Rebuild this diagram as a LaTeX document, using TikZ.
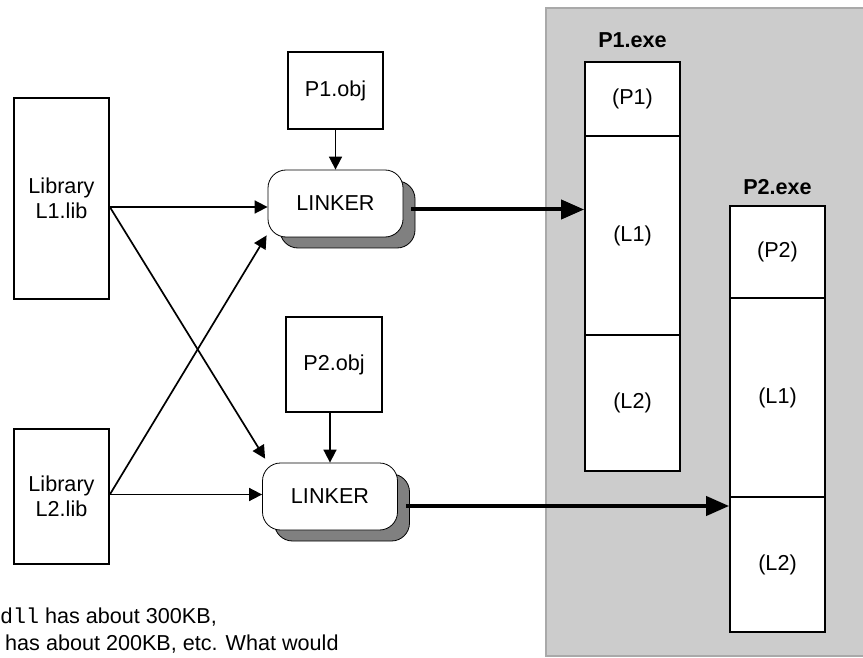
\documentclass[tikz,border=0pt]{standalone}
\usepackage{fontspec}
\setmainfont{Liberation Sans}
\setmonofont{Liberation Mono}
\usetikzlibrary{arrows.meta}
\definecolor{panelfill}{HTML}{CCCCCC}
\definecolor{panelline}{HTML}{A9A9A9}
\definecolor{shadowgray}{HTML}{808080}
\tikzset{
  txt/.style={font=\fontsize{21.6}{25}\selectfont},
  box/.style={txt, draw, line width=1.7pt, fill=white, inner sep=0pt, align=center},
  linkbox/.style={txt, draw, line width=0.8pt, rounded corners=18pt, fill=white,
    inner sep=0pt, minimum width=135pt, minimum height=67pt},
  linkshadow/.style={linkbox, fill=shadowgray},
  feed/.style={line width=1.7pt, -{Triangle[length=13pt,width=13pt]}},
  output/.style={line width=4pt, -{Triangle[length=23pt,width=19pt]}},
  exelabel/.style={font=\fontsize{21.6}{25}\selectfont\bfseries, inner sep=0pt}
}
\begin{document}
\begin{tikzpicture}[x=1pt,y=-1pt]
\useasboundingbox (0,0) rectangle (863,658);
\clip (0,0) rectangle (863,658);

% executable area
\draw[fill=panelfill, draw=panelline, line width=2.5pt] (546,8) rectangle (890,656);

% libraries and object files
\node[box, minimum width=95pt, minimum height=201pt] (lib1) at (61.5,198.5) {Library\\L1.lib};
\node[box, minimum width=95pt, minimum height=135pt] (lib2) at (61.5,496.5) {Library\\L2.lib};
\node[box, minimum width=95pt, minimum height=77pt] (p1obj) at (335.5,90.5) {P1.obj};
\node[box, minimum width=96pt, minimum height=95pt] (p2obj) at (334,364.5) {P2.obj};

% linkers with their shadows
\node[linkshadow] (lk1sh) at (347.5,214.5) {};
\node[linkbox] (lk1) at (335.5,203.5) {LINKER};
\node[linkshadow] (lk2sh) at (342,507.5) {};
\node[linkbox] (lk2) at (330,496.5) {LINKER};

% P1.exe sections
\node[exelabel] (p1lab) at (632.5,40) {P1.exe};
\node[box, minimum width=95pt, minimum height=74pt] (p1a) at (632.5,99) {(P1)};
\node[box, minimum width=95pt, minimum height=199pt] (p1b) at (632.5,235.5) {(L1)};
\node[box, minimum width=95pt, minimum height=136pt] (p1c) at (632.5,403) {(L2)};

% P2.exe sections
\node[exelabel] (p2lab) at (777.5,187) {P2.exe};
\node[box, minimum width=95pt, minimum height=92pt] (p2a) at (777.5,252) {(P2)};
\node[box, minimum width=95pt, minimum height=199pt] (p2b) at (777.5,397.5) {(L1)};
\node[box, minimum width=95pt, minimum height=135pt] (p2c) at (777.5,564.5) {(L2)};

% connectors
\coordinate (l1o) at ([yshift=-8.5pt]lib1.east);
\coordinate (l2o) at ([yshift=2pt]lib2.east);
\draw[feed] (l1o) -- (l1o -| lk1.west);
\draw[feed] (l1o) -- ([xshift=3pt,yshift=4pt]lk2.north west);
\draw[feed] (l2o) -- ([xshift=-1pt,yshift=2pt]lk1.south west);
\draw[feed] (l2o) -- (l2o -| lk2.west);
\draw[feed] (p1obj.south) -- (p1obj.south |- lk1.north);
\draw[feed] (lk2.north |- p2obj.south) -- (lk2.north);
\draw[output] ([xshift=-4pt,yshift=5pt]lk1sh.east) -- ([yshift=5pt]lk1sh.east -| p1b.west);
\draw[output] ([xshift=-4pt,yshift=1.5pt]lk2sh.east) -- ([yshift=1.5pt]lk2sh.east -| p2c.west);

% caption fragment
\node[txt, anchor=base west, inner sep=0pt] (cap1) at (0,623) {\texttt{dll} has about 300KB,};
\node[txt, anchor=base west, inner sep=0pt] (cap2) at (5,650) {has about 200KB, etc. What would};
\end{tikzpicture}
\end{document}
